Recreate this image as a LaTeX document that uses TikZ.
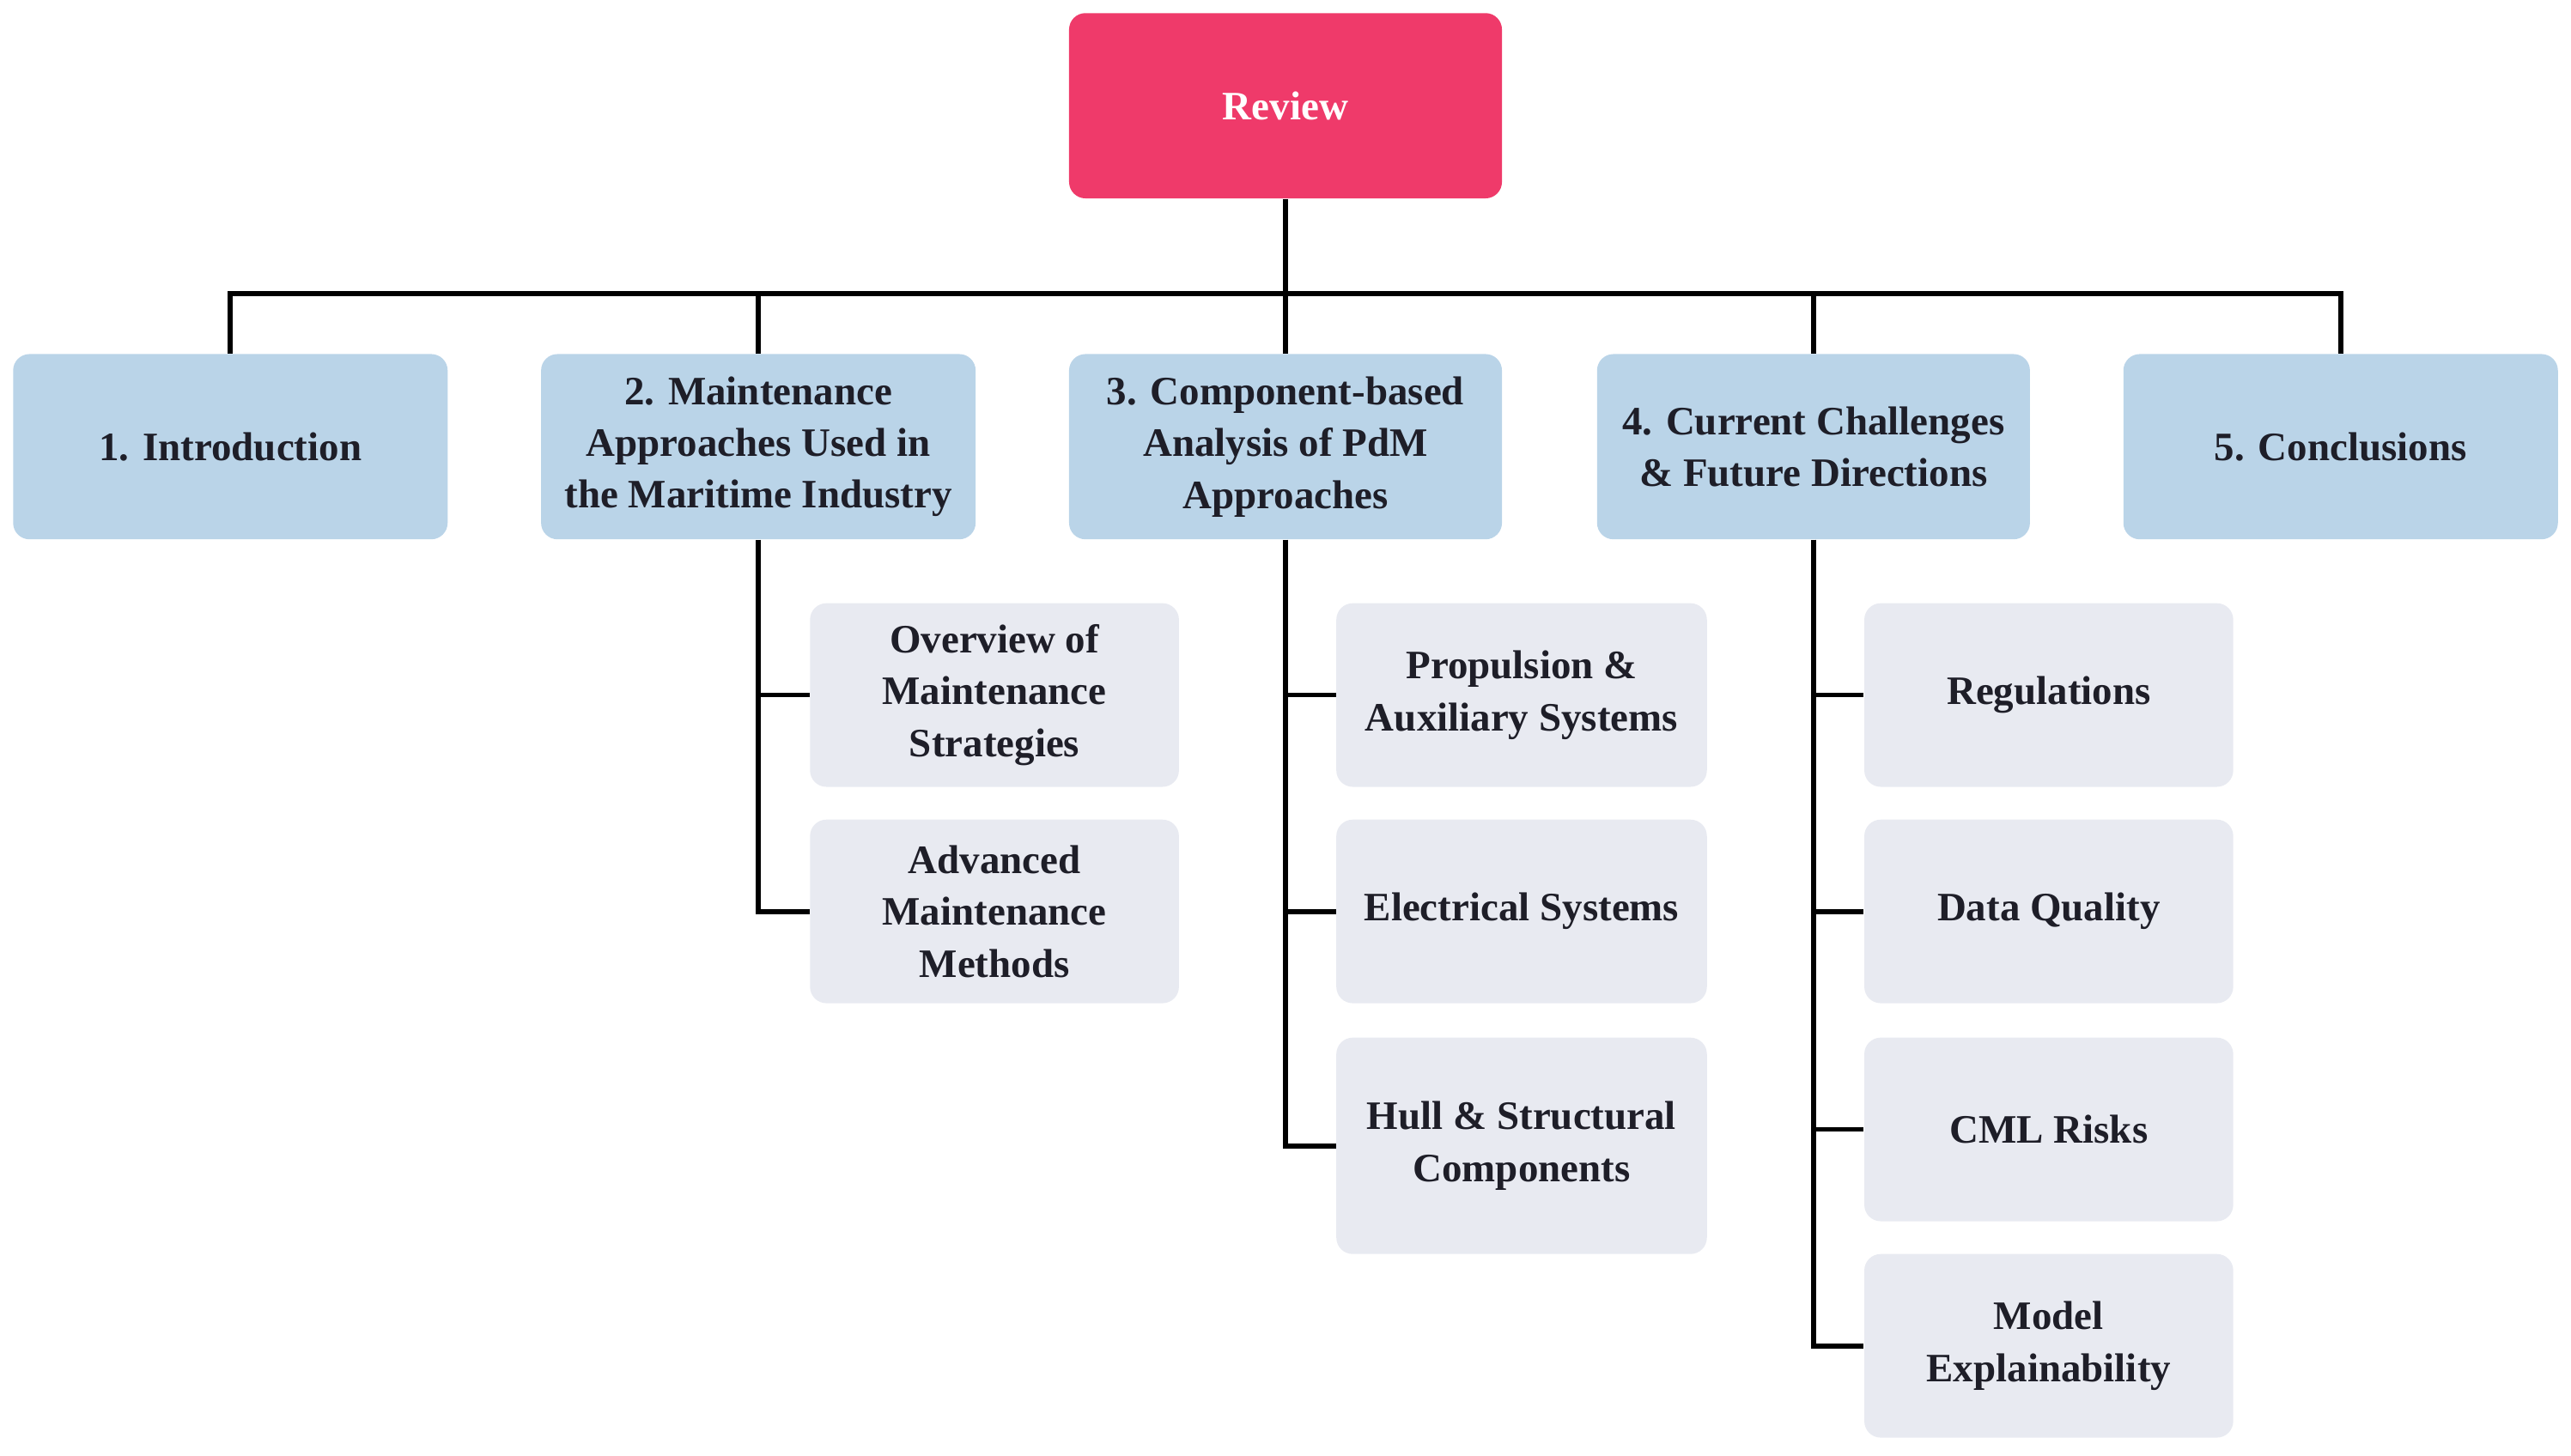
\documentclass[tikz,border=0pt]{standalone}
\usepackage{fontspec}
\setmainfont{Liberation Serif}
\begin{document}
\begin{tikzpicture}[x=0.02cm,y=-0.02cm,
  base/.style={rounded corners=0.2cm,align=center,inner sep=0pt,font=\bfseries\fontsize{14}{18}\selectfont},
  top/.style={base,fill={rgb,255:red,239;green,58;blue,106},text=white},
  lvl/.style={base,fill={rgb,255:red,186;green,212;blue,232},text={rgb,255:red,30;green,30;blue,40}},
  sub/.style={base,fill={rgb,255:red,232;green,234;blue,241},text={rgb,255:red,30;green,30;blue,40}},
  con/.style={line width=1.7pt,black}]
\useasboundingbox (0,0) rectangle (1568,888);
\newcommand\bx[7]{\node[#6,minimum width={(#4-#2)*0.02cm},minimum height={(#5-#3)*0.02cm}] (#1) at ({(#2+#4)/2},{(#3+#5)/2}) {#7};}
\bx{rev}{652}{8}{916}{121}{top}{Review}
\bx{intro}{8}{216}{273}{329}{lvl}{1. Introduction}
\bx{maint}{330}{216}{595}{329}{lvl}{2. Maintenance\\Approaches Used in\\the Maritime Industry}
\bx{comp}{652}{216}{916}{329}{lvl}{3. Component-based\\Analysis of PdM\\Approaches}
\bx{chal}{974}{216}{1238}{329}{lvl}{4. Current Challenges\\\& Future Directions}
\bx{conc}{1295}{216}{1560}{329}{lvl}{5. Conclusions}
\bx{ov}{494}{368}{719}{480}{sub}{Overview of\\Maintenance\\Strategies}
\bx{adv}{494}{500}{719}{612}{sub}{Advanced\\Maintenance\\Methods}
\bx{prop}{815}{368}{1041}{480}{sub}{Propulsion \&\\Auxiliary Systems}
\bx{elec}{815}{500}{1041}{612}{sub}{Electrical Systems}
\bx{hull}{815}{633}{1041}{765}{sub}{Hull \& Structural\\Components}
\bx{reg}{1137}{368}{1362}{480}{sub}{Regulations}
\bx{dq}{1137}{500}{1362}{612}{sub}{Data Quality}
\bx{cml}{1137}{633}{1362}{745}{sub}{CML Risks}
\bx{mod}{1137}{765}{1362}{877}{sub}{Model\\Explainability}
\coordinate (bus) at (784,179);
\draw[con] (rev.south) -- (bus);
\foreach \n in {intro,maint,comp,chal,conc} \draw[con] (\n.north) |- (bus);
\foreach \n in {ov,adv} \draw[con] (maint.south) |- (\n.west);
\foreach \n in {prop,elec,hull} \draw[con] (comp.south) |- (\n.west);
\foreach \n in {reg,dq,cml,mod} \draw[con] (chal.south) |- (\n.west);
\end{tikzpicture}
\end{document}
